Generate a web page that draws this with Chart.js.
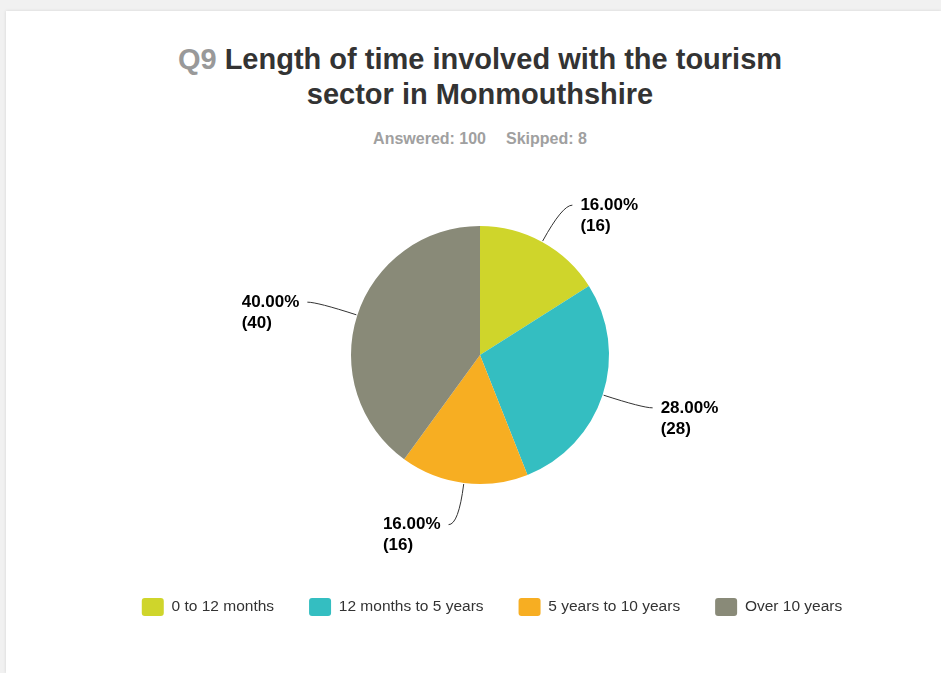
<!DOCTYPE html>
<html lang="en">
<head>
    <meta charset="UTF-8">
    <title>Q9 Length of time involved with the tourism sector</title>
    <script src="https://cdn.jsdelivr.net/npm/chart.js"></script>
    <style>
        body {
            margin: 0;
            width: 941px;
            height: 673px;
            overflow: hidden;
            background-color: #f1f1f1;
            font-family: Arial, "Liberation Sans", sans-serif;
            position: relative;
        }
        .card {
            position: absolute;
            left: 6px;
            top: 11px;
            right: 0;
            bottom: 0;
            background: #fff;
            box-shadow: 0 0 3px rgba(0, 0, 0, 0.12);
        }
        .title {
            position: absolute;
            left: 0;
            top: 42px;
            width: 960px;
            text-align: center;
            font-size: 29px;
            font-weight: bold;
            line-height: 35px;
            color: #333;
        }
        .title .q { color: #999; }
        .sub {
            position: absolute;
            left: 0;
            top: 129px;
            width: 960px;
            text-align: center;
            font-size: 16px;
            font-weight: bold;
            line-height: 20px;
            color: #a0a0a0;
        }
        .sub span { margin: 0 10px; }
        canvas {
            position: absolute;
            left: 0;
            top: 0;
        }
    </style>
</head>
<body>
    <div class="card"></div>
    <div class="title"><span class="q">Q9</span> Length of time involved with the tourism<br>sector in Monmouthshire</div>
    <div class="sub"><span>Answered: 100</span><span>Skipped: 8</span></div>
    <canvas id="pieChart" width="941" height="673"></canvas>

    <script>
        // 데이터
        const categories = ['0 to 12 months', '12 months to 5 years', '5 years to 10 years', 'Over 10 years'];
        const counts = [16, 28, 16, 40];
        const sliceColors = ['#cfd52b', '#34bec1', '#f7ae22', '#898a78'];
        const answered = 100;

        // 조각 바깥 라벨과 지시선
        const leaderLabels = {
            id: 'leaderLabels',
            afterDatasetsDraw(chart) {
                const ctx = chart.ctx;
                const meta = chart.getDatasetMeta(0);
                ctx.save();
                ctx.font = 'bold 17px Arial, "Liberation Sans", sans-serif';
                ctx.textBaseline = 'middle';
                ctx.textAlign = 'left';
                meta.data.forEach((arc, i) => {
                    const p = arc.getProps(['x', 'y', 'startAngle', 'endAngle', 'outerRadius'], true);
                    const mid = (p.startAngle + p.endAngle) / 2;
                    const cos = Math.cos(mid), sin = Math.sin(mid);
                    const dir = cos >= 0 ? 1 : -1;
                    const x0 = p.x + cos * (p.outerRadius + 1);
                    const y0 = p.y + sin * (p.outerRadius + 1);
                    const cx = p.x + cos * (p.outerRadius + 42);
                    const cy = p.y + sin * (p.outerRadius + 42);
                    const x1 = cx + dir * 10;
                    const y1 = cy;
                    ctx.strokeStyle = '#333';
                    ctx.lineWidth = 1;
                    ctx.beginPath();
                    ctx.moveTo(x0, y0);
                    ctx.quadraticCurveTo(cx, cy, x1, y1);
                    ctx.stroke();

                    const line1 = (counts[i] / answered * 100).toFixed(2) + '%';
                    const line2 = '(' + counts[i] + ')';
                    const w = ctx.measureText(line1).width;
                    const tx = dir > 0 ? x1 + 8 : x1 - 8 - w;
                    ctx.fillStyle = '#000';
                    ctx.fillText(line1, tx, y1);
                    ctx.fillText(line2, tx, y1 + 21);
                });
                ctx.restore();
            }
        };

        // 범례를 조금 오른쪽으로 이동
        const legendShift = {
            id: 'legendShift',
            afterLayout(chart) {
                chart.legend.left += 12;
                chart.legend.right += 12;
            }
        };

        const ctx = document.getElementById('pieChart').getContext('2d');
        new Chart(ctx, {
            type: 'pie',
            data: {
                labels: categories,
                datasets: [{
                    data: counts,
                    backgroundColor: sliceColors,
                    borderWidth: 0,
                    radius: 129
                }]
            },
            options: {
                responsive: false,
                animation: false,
                devicePixelRatio: 1,
                layout: {
                    padding: { top: 147, bottom: 47, left: 40, right: 21 }
                },
                plugins: {
                    tooltip: { enabled: false },
                    legend: {
                        position: 'bottom',
                        labels: {
                            boxWidth: 22,
                            boxHeight: 18,
                            padding: 35,
                            useBorderRadius: true,
                            borderRadius: 3,
                            color: '#333',
                            font: { family: 'Arial, "Liberation Sans", sans-serif', size: 15.5 }
                        }
                    }
                }
            },
            plugins: [leaderLabels, legendShift]
        });
    </script>
</body>
</html>
